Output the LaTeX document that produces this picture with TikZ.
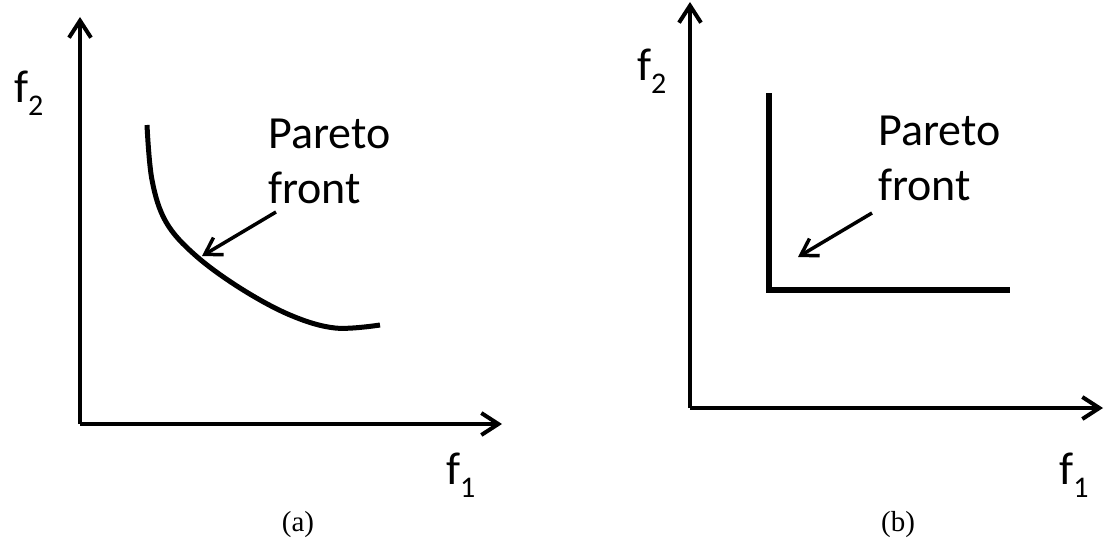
\documentclass[tikz,border=0pt]{standalone}
\usepackage{fontspec}
\setmainfont{Carlito}
\newfontfamily\capfont{Liberation Serif}
\usetikzlibrary{arrows.meta}
\tikzset{
  axis/.style={line width=4pt, -{Straight Barb[length=17pt,width=22pt,line width=4pt]}},
  pointer/.style={line width=3.5pt, -{Straight Barb[length=16pt,width=20pt,line width=3.5pt]}},
  front/.style={line width=5pt},
  lbl/.style={font=\fontsize{46}{50}\selectfont, inner sep=0pt, anchor=base west},
  plabel/.style={font=\fontsize{46}{55}\selectfont, inner sep=0pt, anchor=base west, align=left},
  captxt/.style={font=\capfont\fontsize{29}{30}\selectfont, inner sep=0pt, anchor=base}
}
\newcommand{\subs}[1]{\raisebox{-0.3em}{\fontsize{30}{30}\selectfont #1}}
\begin{document}
\begin{tikzpicture}[x=1pt,y=-1pt]
\useasboundingbox (0,0) rectangle (1105,543);
% (a)
\coordinate (Oa) at (80,424);
\coordinate (Ya) at (80,17);
\coordinate (Xa) at (502,424);
\draw[axis] (Oa) -- (Ya);
\draw[axis] (Oa) -- (Xa);
\draw[front] plot[smooth, tension=0.6] coordinates {(147,125) (152,180) (166,222) (195,255) (240,288) (290,315) (335,328) (380,325)};
\node[lbl] (f2a) at (14,102) {f\subs{2}};
\node[lbl] (f1a) at (446,484) {f\subs{1}};
\node[plabel] (pa) at (268,203) {Pareto\\front};
\coordinate (pas) at (276,212);
\coordinate (pat) at (202,256);
\draw[pointer] (pas) -- (pat);
\node[captxt] (ca) at (298,531) {(a)};
% (b)
\coordinate (Ob) at (690,408);
\coordinate (Yb) at (690,2);
\coordinate (Xb) at (1103,408);
\draw[axis] (Ob) -- (Yb);
\draw[axis] (Ob) -- (Xb);
\coordinate (La) at (769,93);
\coordinate (Lb) at (769,290);
\coordinate (Lc) at (1010,290);
\draw[line width=6pt] (La) -- (Lb) -- (Lc);
\node[lbl] (f2b) at (637,80) {f\subs{2}};
\node[lbl] (f1b) at (1059,484) {f\subs{1}};
\node[plabel] (pb) at (878,200) {Pareto\\front};
\coordinate (pbs) at (872,213);
\coordinate (pbt) at (798,257);
\draw[pointer] (pbs) -- (pbt);
\node[captxt] (cb) at (898,531) {(b)};
\end{tikzpicture}
\end{document}
